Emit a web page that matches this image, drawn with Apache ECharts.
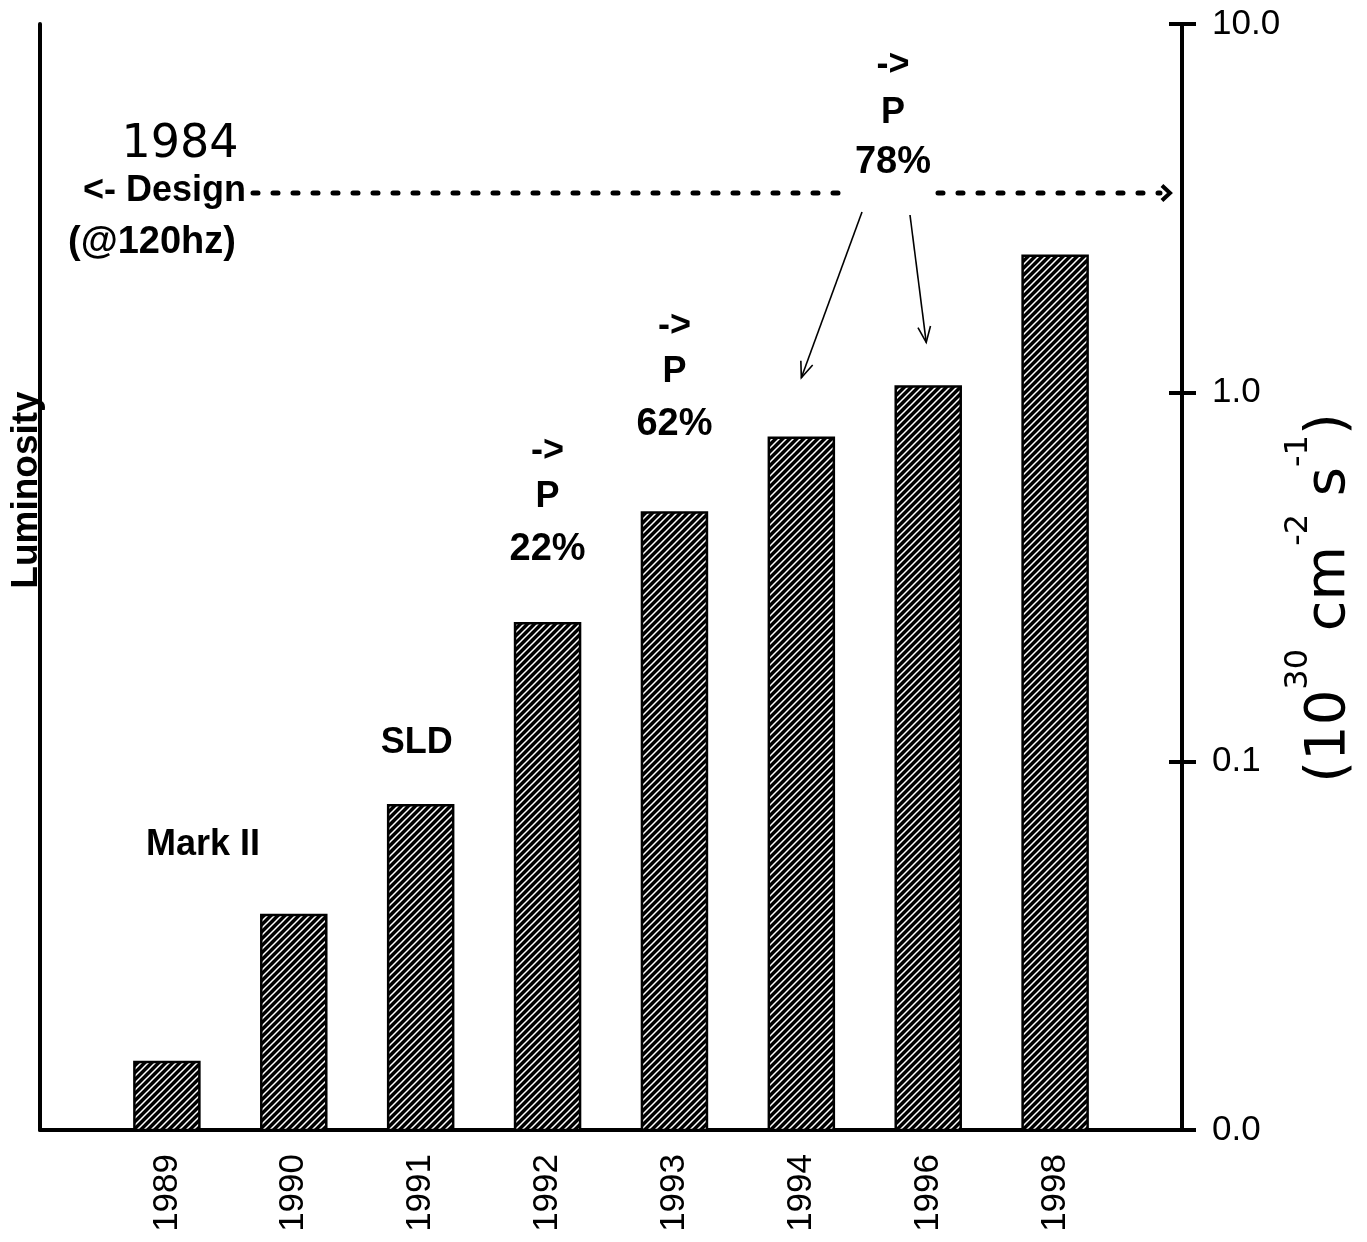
<!DOCTYPE html>
<html>
<head>
<meta charset="utf-8">
<script src="https://cdn.jsdelivr.net/npm/echarts@6/dist/echarts.min.js"></script>
<style>
  html, body { margin: 0; padding: 0; background: #fff; }
  #chart { width: 1367px; height: 1242px; }
</style>
</head>
<body>
<div id="chart"></div>
<script>
// Run years (empty slots pad both ends of the axis)
const years = ['', '1989', '1990', '1991', '1992', '1993', '1994', '1996', '1998', ''];
// Peak luminosity per run, units of 10^30 cm^-2 s^-1
const luminosity = [null, 0.0153, 0.0383, 0.076, 0.237, 0.473, 0.755, 1.04, 2.35, null];
// Electron polarization reached in the run
const polarization = ['', '', '', '', '22%', '62%', '', '', '', ''];
const polarizationLate = '78%';
// 1984 design luminosity at 120 Hz
const designLuminosity = 3.48;
const axisMin = 0.01, axisMax = 10;

const FONT = '"Liberation Sans", Arial, Helvetica, sans-serif';
const HAND = '"DejaVu Sans", "Noto Sans", sans-serif';
const BAR_W = 65;

// diagonal hatch fill for the bars
function hatchPattern() {
  const s = 7;
  const c = document.createElement('canvas');
  c.width = s; c.height = s;
  const g = c.getContext('2d');
  g.fillStyle = '#000';
  g.fillRect(0, 0, s, s);
  g.strokeStyle = '#fff';
  g.lineWidth = 1.5;
  g.beginPath();
  g.moveTo(-1, s + 1); g.lineTo(s + 1, -1);
  g.moveTo(-1, 1); g.lineTo(1, -1);
  g.moveTo(s - 1, s + 1); g.lineTo(s + 1, s - 1);
  g.stroke();
  return c;
}
const hatch = { image: hatchPattern(), repeat: 'repeat' };

const chart = echarts.init(document.getElementById('chart'), null, { renderer: 'canvas' });

const logAxisBase = {
  type: 'log', logBase: 10, min: axisMin, max: axisMax,
  splitLine: { show: false }, minorTick: { show: false }, minorSplitLine: { show: false }
};

// bars rise from the bottom of the log axis
const barData = luminosity
  .map((v, i) => (v == null ? null : [i, v]))
  .filter(d => d !== null);

const option = {
  animation: false,
  backgroundColor: '#fff',
  grid: { left: 40, right: 185, top: 24, bottom: 112, containLabel: false },
  xAxis: {
    type: 'category', data: years, boundaryGap: false,
    axisLine: { show: true, lineStyle: { color: '#000', width: 4 } },
    axisTick: { show: false },
    axisLabel: { rotate: 90, fontSize: 35, fontFamily: FONT, color: '#000', margin: 24, interval: 0 },
    splitLine: { show: false }
  },
  yAxis: [
    Object.assign({}, logAxisBase, {
      position: 'right',
      axisLine: { show: true, lineStyle: { color: '#000', width: 4 } },
      axisTick: { show: true, length: 14, lineStyle: { color: '#000', width: 4 } },
      axisLabel: { formatter: v => Number(v).toFixed(1), fontSize: 35, fontFamily: FONT, color: '#000', margin: 30 }
    }),
    Object.assign({}, logAxisBase, {
      position: 'right',
      axisLine: { show: false },
      axisTick: { show: true, inside: true, length: 13, lineStyle: { color: '#000', width: 4 } },
      axisLabel: { show: false }
    }),
    Object.assign({}, logAxisBase, {
      position: 'left',
      axisLine: { show: true, lineStyle: { color: '#000', width: 4 } },
      axisTick: { show: false },
      axisLabel: { show: false }
    })
  ],
  series: [{
    type: 'custom',
    yAxisIndex: 0,
    data: barData,
    renderItem: function (params, api) {
      const top = api.coord([api.value(0), api.value(1)]);
      const bottom = api.coord([api.value(0), axisMin]);
      return {
        type: 'rect',
        shape: { x: top[0] - BAR_W / 2, y: top[1], width: BAR_W, height: bottom[1] - top[1] },
        style: { fill: hatch, stroke: '#000', lineWidth: 2.5 }
      };
    }
  }]
};

chart.setOption(option);

// annotation layer positioned through the chart's own scales
const px = (idx, v) => chart.convertToPixel({ xAxisIndex: 0, yAxisIndex: 0 }, [idx, v]);
const yDesign = px(0, designLuminosity)[1];
const top1994 = px(6, luminosity[6]);
const top1996 = px(7, luminosity[7]);
const top1991 = px(3, luminosity[3]);

function arrowHead(x, y, angle, len, spread) {
  const a1 = angle + Math.PI - spread, a2 = angle + Math.PI + spread;
  return [[x + len * Math.cos(a1), y + len * Math.sin(a1)], [x, y], [x + len * Math.cos(a2), y + len * Math.sin(a2)]];
}
function thinArrow(x1, y1, x2, y2) {
  const ang = Math.atan2(y2 - y1, x2 - x1);
  return [
    { type: 'line', shape: { x1, y1, x2, y2 }, style: { stroke: '#000', lineWidth: 1.6 } },
    { type: 'polyline', shape: { points: arrowHead(x2, y2, ang, 17, 0.38) }, style: { stroke: '#000', lineWidth: 1.6, fill: null } }
  ];
}

const dotted = { stroke: '#000', lineWidth: 5, lineDash: [5, 15], lineCap: 'round' };
const boldText = (text, x, y, extra) => ({
  type: 'text', x, y,
  style: Object.assign({ text, fontSize: 36, fontWeight: 'bold', fontFamily: FONT, fill: '#000', align: 'center', verticalAlign: 'middle' }, extra || {})
});

// polarization stacks above the bars: gap from bar top to the last line's centre
const polGap = [0, 0, 0, 0, 74, 88, 0, 0, 0, 0];
const polLabels = [];
polarization.forEach((p, i) => {
  if (!p) return;
  const t = px(i, luminosity[i]);
  const yBottom = t[1] - polGap[i];
  polLabels.push(boldText('->', t[0], yBottom - 98));
  polLabels.push(boldText('P', t[0], yBottom - 52));
  polLabels.push(boldText(p, t[0], yBottom, { fontSize: 38 }));
});

const luminosityTitle = boldText('Luminosity', 27, 490, { fontSize: 37 });
luminosityTitle.rotation = Math.PI / 2;

const graphics = [
  // vertical axis titles
  luminosityTitle,
  { type: 'text', x: 1320, y: 598, rotation: Math.PI / 2,
    style: {
      text: '{n|(10}{s|30}{n| cm}{s|-2}{n| s}{s|-1}{n|)}',
      align: 'center', verticalAlign: 'middle',
      rich: {
        n: { fontSize: 56, fontFamily: HAND, fill: '#000', lineHeight: 74, verticalAlign: 'bottom' },
        s: { fontSize: 32, fontFamily: HAND, fill: '#000', lineHeight: 74, verticalAlign: 'top' }
      }
    } },
  // design luminosity note
  { type: 'text', x: 180, y: 145,
    style: { text: '1984', fontSize: 46, fontFamily: HAND, fill: '#000', align: 'center', verticalAlign: 'middle' } },
  boldText('<- Design', 246, yDesign - 2, { align: 'right' }),
  boldText('(@120hz)', 152, 243, { fontSize: 38 }),
  { type: 'line', shape: { x1: 253, y1: yDesign, x2: 838, y2: yDesign }, style: dotted },
  { type: 'line', shape: { x1: 938, y1: yDesign, x2: 1160, y2: yDesign }, style: dotted },
  { type: 'polyline', shape: { points: arrowHead(1170, yDesign, 0, 11, 0.75) }, style: { stroke: '#000', lineWidth: 4, fill: null } },
  // polarization note for the later runs
  boldText('->', 893, 65),
  boldText('P', 893, 113),
  boldText(polarizationLate, 893, 163, { fontSize: 38 }),
  // experiment labels
  boldText('SLD', top1991[0] - 4, 743),
  boldText('Mark II', 203, 845)
]
  .concat(polLabels)
  .concat(thinArrow(862, 212, top1994[0], top1994[1] - 60))
  .concat(thinArrow(910, 215, top1996[0] - 2, top1996[1] - 44));

chart.setOption({ graphic: graphics });
</script>
</body>
</html>
